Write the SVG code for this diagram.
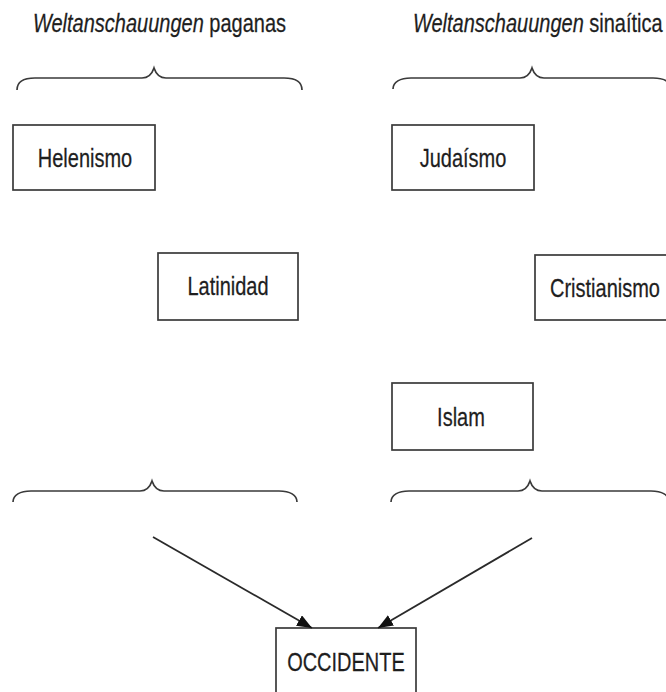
<svg xmlns="http://www.w3.org/2000/svg" width="666" height="692" viewBox="0 0 666 692">
<style>
.bg{fill:#fff}
.box{fill:#fff;stroke:#3a3a3a;stroke-width:1.7}
.lbl{font-family:"Liberation Sans",Arial,sans-serif;font-size:25px;fill:#1e1e1e;text-anchor:middle;stroke:#1e1e1e;stroke-width:0.25}
.ttl{font-family:"Liberation Sans",Arial,sans-serif;font-size:25px;fill:#1e1e1e;stroke:#1e1e1e;stroke-width:0.25}
.it{font-style:italic}
.brace{fill:none;stroke:#3a3a3a;stroke-width:1.7}
.arr{fill:none;stroke:#2a2a2a;stroke-width:1.8}
</style>
<defs>
<marker id="ah" markerUnits="userSpaceOnUse" markerWidth="16" markerHeight="12" refX="15" refY="6" orient="auto">
<path d="M0,0 L15,6 L0,12 z" fill="#111"/>
</marker>
</defs>
<rect class="bg" x="0" y="0" width="666" height="692"/>

<g id="titles" transform="scale(0.8,1)">
<text class="ttl" x="41.25" y="32"><tspan class="it">Weltanschauungen</tspan> paganas</text>
<text class="ttl" x="516.25" y="32"><tspan class="it">Weltanschauungen</tspan> sinaítica</text>
</g>

<g id="braces">
<path class="brace" d="M17,90 C17,82 24,78 35,78 L142,78 C149,78 152,74 154,68 C156,74 159,78 166,78 L284,78 C295,78 302,82 302,90"/>
<path class="brace" d="M393,89 C393,82 400,78 411,78 L520,78 C527,78 530,74 532,68 C534,74 537,78 544,78 L653,78 C664,78 671,82 671,90"/>
<path class="brace" d="M13,502 C13,495 20,491 31,491 L140,491 C147,491 150,487 152,481 C154,487 157,491 164,491 L279,491 C290,491 297,495 297,502"/>
<path class="brace" d="M391,502 C391,495 398,491 409,491 L518,491 C525,491 528,487 530,481 C532,487 535,491 542,491 L651,491 C662,491 669,495 669,502"/>
</g>

<g id="helenismo">
<rect class="box" x="13" y="125" width="142" height="65"/>
<text class="lbl" transform="scale(0.8,1)" x="106.25" y="167">Helenismo</text>
</g>
<g id="latinidad">
<rect class="box" x="158" y="253" width="140" height="67"/>
<text class="lbl" transform="scale(0.8,1)" x="285" y="295">Latinidad</text>
</g>
<g id="judaismo">
<rect class="box" x="392" y="125" width="142" height="65"/>
<text class="lbl" transform="scale(0.8,1)" x="578.75" y="167">Judaísmo</text>
</g>
<g id="cristianismo">
<rect class="box" x="535" y="255" width="142" height="65"/>
<text class="lbl" transform="scale(0.8,1)" x="756.25" y="297">Cristianismo</text>
</g>
<g id="islam">
<rect class="box" x="392" y="383" width="141" height="67"/>
<text class="lbl" transform="scale(0.8,1)" x="576.25" y="426">Islam</text>
</g>
<g id="occidente">
<rect class="box" x="276" y="628" width="140" height="80"/>
<text class="lbl" transform="scale(0.8,1)" x="432.5" y="671">OCCIDENTE</text>
</g>

<g id="connectors">
<line class="arr" x1="153" y1="537" x2="312" y2="628" marker-end="url(#ah)"/>
<line class="arr" x1="532" y1="538" x2="378" y2="628" marker-end="url(#ah)"/>
</g>
</svg>
